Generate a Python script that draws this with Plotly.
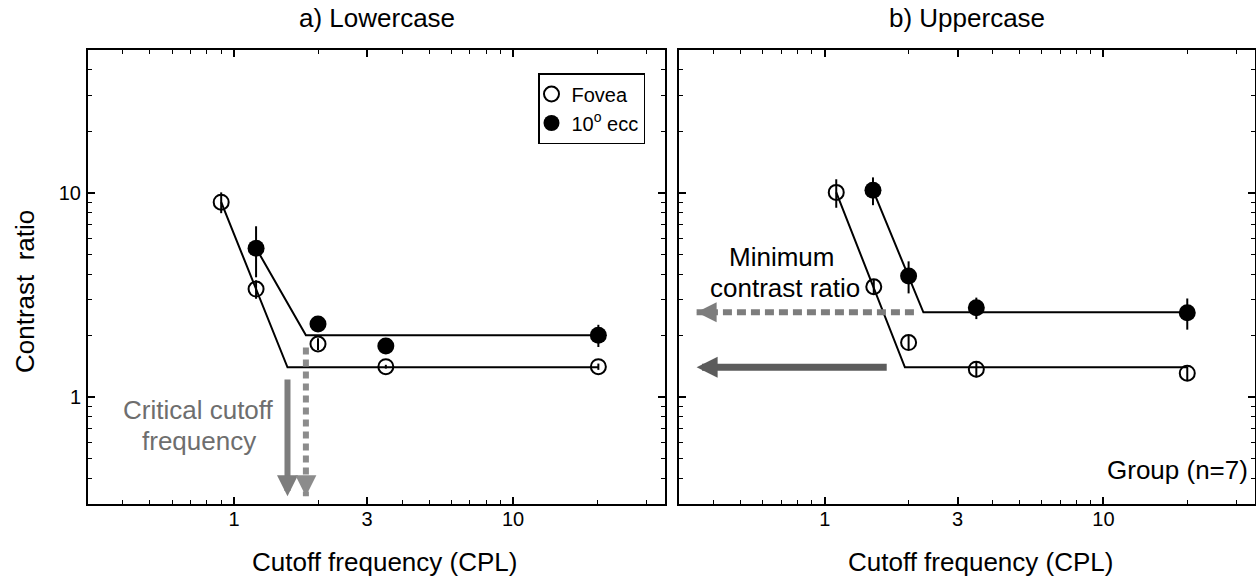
import math
import plotly.graph_objects as go

# ---------------- data ----------------
# a) Lowercase
low_fovea_x = [0.9, 1.2, 2.0, 3.5, 20.2]
low_fovea_y = [9.0, 3.38, 1.82, 1.41, 1.41]
low_fovea_err = [1.05, 0.35, 0.12, 0.03, 0.05]
low_ecc_x = [1.2, 2.0, 3.5, 20.2]
low_ecc_y = [5.36, 2.28, 1.78, 2.01]
low_ecc_err = [1.5, 0.08, 0.05, 0.25]
low_fovea_fit_x = [0.9, 1.555, 20.2]
low_fovea_fit_y = [9.0, 1.40, 1.40]
low_ecc_fit_x = [1.2, 1.81, 20.2]
low_ecc_fit_y = [5.36, 2.01, 2.01]

# b) Uppercase
up_fovea_x = [1.1, 1.5, 2.0, 3.5, 20.0]
up_fovea_y = [10.05, 3.47, 1.85, 1.37, 1.31]
up_fovea_err = [1.6, 0.3, 0.15, 0.12, 0.1]
up_ecc_x = [1.49, 2.0, 3.5, 20.0]
up_ecc_y = [10.3, 3.92, 2.74, 2.59]
up_ecc_err = [1.6, 0.7, 0.33, 0.45]
up_fovea_fit_x = [1.1, 1.94, 20.0]
up_fovea_fit_y = [10.05, 1.40, 1.40]
up_ecc_fit_x = [1.49, 2.26, 20.0]
up_ecc_fit_y = [10.3, 2.60, 2.60]

# arrows (data units)
crit_fovea_x, crit_fovea_y0 = 1.555, 1.24      # solid, lowercase
crit_ecc_x, crit_ecc_y0 = 1.81, 1.75           # dashed, lowercase
crit_tip_y = 0.327
min_ecc_y, min_ecc_x0 = 2.60, 2.09             # dashed, uppercase
min_fovea_y, min_fovea_x0 = 1.40, 1.69         # solid, uppercase
min_tip_x = 0.347

# axes
x_range = [0.3, 35]
y_range = [0.3, 50]
x_major = [1, 3, 10]
x_minor = [0.4, 0.5, 0.6, 0.7, 0.8, 0.9, 2, 4, 5, 6, 7, 8, 9, 20, 30]
y_major = [1, 10]
y_minor = [0.4, 0.5, 0.6, 0.7, 0.8, 0.9, 2, 3, 4, 5, 6, 7, 8, 9, 20, 30, 40]

# ---------------- figure ----------------
W, H = 1256, 580
FONT = "Liberation Sans, Arial, Helvetica, sans-serif"
lg = math.log10

fig = go.Figure()


def add_panel(xa, ya, fov_x, fov_y, fov_e, ecc_x, ecc_y, ecc_e,
              ffx, ffy, efx, efy, legend):
    for fx, fy in ((ffx, ffy), (efx, efy)):
        fig.add_trace(go.Scatter(x=fx, y=fy, mode="lines", xaxis=xa, yaxis=ya,
                                 line=dict(color="black", width=2),
                                 showlegend=False, hoverinfo="skip"))
    fig.add_trace(go.Scatter(x=fov_x, y=fov_y, mode="markers", xaxis=xa, yaxis=ya,
                             name="Fovea", showlegend=legend,
                             marker=dict(symbol="circle-open", size=15, color="black",
                                         line=dict(width=2, color="black")),
                             error_y=dict(type="data", array=fov_e, thickness=2,
                                          width=0, color="black")))
    fig.add_trace(go.Scatter(x=ecc_x, y=ecc_y, mode="markers", xaxis=xa, yaxis=ya,
                             name="10<sup>o</sup> ecc", showlegend=legend,
                             marker=dict(symbol="circle", size=17, color="black"),
                             error_y=dict(type="data", array=ecc_e, thickness=2,
                                          width=0, color="black")))


add_panel("x", "y", low_fovea_x, low_fovea_y, low_fovea_err,
          low_ecc_x, low_ecc_y, low_ecc_err,
          low_fovea_fit_x, low_fovea_fit_y, low_ecc_fit_x, low_ecc_fit_y, True)
add_panel("x2", "y2", up_fovea_x, up_fovea_y, up_fovea_err,
          up_ecc_x, up_ecc_y, up_ecc_err,
          up_fovea_fit_x, up_fovea_fit_y, up_ecc_fit_x, up_ecc_fit_y, False)

# dashed arrow shafts
fig.add_trace(go.Scatter(x=[crit_ecc_x, crit_ecc_x], y=[crit_ecc_y0, crit_tip_y],
                         mode="lines", xaxis="x", yaxis="y", showlegend=False,
                         hoverinfo="skip",
                         line=dict(color="#8c8c8c", width=6, dash="7px,5px")))
fig.add_trace(go.Scatter(x=[min_ecc_x0, min_tip_x], y=[min_ecc_y, min_ecc_y],
                         mode="lines", xaxis="x2", yaxis="y2", showlegend=False,
                         hoverinfo="skip",
                         line=dict(color="#7d7d7d", width=6, dash="9px,5px")))


def xaxis(dom, anchor):
    return dict(domain=dom, anchor=anchor, type="log",
                range=[lg(x_range[0]), lg(x_range[1])],
                tickmode="array", tickvals=x_major, ticktext=[str(v) for v in x_major],
                ticks="inside", ticklen=7, tickwidth=1.5, tickcolor="black",
                showline=True, linewidth=2, linecolor="black", mirror="allticks",
                showgrid=False, zeroline=False, ticklabelstandoff=-4,
                minor=dict(tickmode="array", tickvals=x_minor, ticks="inside",
                           ticklen=4, tickwidth=1.2, tickcolor="black", showgrid=False),
                tickfont=dict(family=FONT, size=20, color="black"))


def yaxis(dom, anchor, labels):
    return dict(domain=dom, anchor=anchor, type="log",
                range=[lg(y_range[0]), lg(y_range[1])],
                tickmode="array", tickvals=y_major, ticktext=[str(v) for v in y_major],
                showticklabels=labels,
                ticks="inside", ticklen=7, tickwidth=1.5, tickcolor="black",
                showline=True, linewidth=2, linecolor="black", mirror="allticks",
                showgrid=False, zeroline=False, ticklabelstandoff=1,
                minor=dict(tickmode="array", tickvals=y_minor, ticks="inside",
                           ticklen=4, tickwidth=1.2, tickcolor="black", showgrid=False),
                tickfont=dict(family=FONT, size=20, color="black"))


xa_dom = [88 / W, 665 / W]
xb_dom = [679 / W, 1255 / W]
y_dom = [(H - 504) / H, (H - 50) / H]

annotations = []


def text(x, y, s, size=26, color="black", **kw):
    d = dict(x=x, y=y, xref="paper", yref="paper", text=s, showarrow=False,
             xanchor="center", yanchor="middle",
             font=dict(family=FONT, size=size, color=color))
    d.update(kw)
    annotations.append(d)


text(sum(xa_dom) / 2, 1 - 18 / H, "a) Lowercase")
text(sum(xb_dom) / 2, 1 - 18 / H, "b) Uppercase")
text(384 / W, 1 - 562 / H, "Cutoff frequency (CPL)")
text(980 / W, 1 - 562 / H, "Cutoff frequency (CPL)")
text(25 / W, 1 - 292 / H, "Contrast\u00a0 ratio", textangle=-90)
text(198 / W, 1 - 410 / H, "Critical cutoff", color="#6e6e6e")
text(199 / W, 1 - 441 / H, "frequency", color="#6e6e6e")
text(781 / W, 1 - 257 / H, "Minimum")
text(785 / W, 1 - 288 / H, "contrast ratio")
text(1250 / W, 1 - 470 / H, "Group (n=7)", xanchor="right")

# arrows
annotations.append(dict(x=lg(crit_fovea_x), y=lg(crit_tip_y), xref="x", yref="y",
                        ax=lg(crit_fovea_x), ay=lg(crit_fovea_y0), axref="x", ayref="y",
                        text="", showarrow=True, arrowhead=2, arrowwidth=6,
                        arrowsize=0.7, arrowcolor="#7d7d7d"))
annotations.append(dict(x=lg(crit_ecc_x), y=lg(crit_tip_y), xref="x", yref="y",
                        ax=0, ay=-20, text="", showarrow=True, arrowhead=2,
                        arrowwidth=1, arrowsize=4.2, arrowcolor="#8c8c8c"))
annotations.append(dict(x=lg(min_tip_x), y=lg(min_fovea_y), xref="x2", yref="y2",
                        ax=lg(min_fovea_x0), ay=lg(min_fovea_y), axref="x2", ayref="y2",
                        text="", showarrow=True, arrowhead=2, arrowwidth=7,
                        arrowsize=0.6, arrowcolor="#5c5c5c"))
annotations.append(dict(x=lg(min_tip_x), y=lg(min_ecc_y), xref="x2", yref="y2",
                        ax=20, ay=0, text="", showarrow=True, arrowhead=2,
                        arrowwidth=1, arrowsize=4.0, arrowcolor="#7d7d7d"))

fig.update_layout(
    width=W, height=H, autosize=False,
    margin=dict(l=0, r=0, t=0, b=0, pad=0),
    paper_bgcolor="white", plot_bgcolor="white",
    font=dict(family=FONT, size=20, color="black"),
    xaxis=xaxis(xa_dom, "y"), yaxis=yaxis(y_dom, "x", True),
    xaxis2=xaxis(xb_dom, "y2"), yaxis2=yaxis(y_dom, "x2", False),
    showlegend=True,
    legend=dict(x=538 / W, y=1 - 73 / H, xanchor="left", yanchor="top",
                bordercolor="black", borderwidth=1.5, bgcolor="white",
                font=dict(family=FONT, size=20, color="black"),
                itemwidth=30, tracegroupgap=0, indentation=-8),
    annotations=annotations,
)

fig.write_html("out.html")
